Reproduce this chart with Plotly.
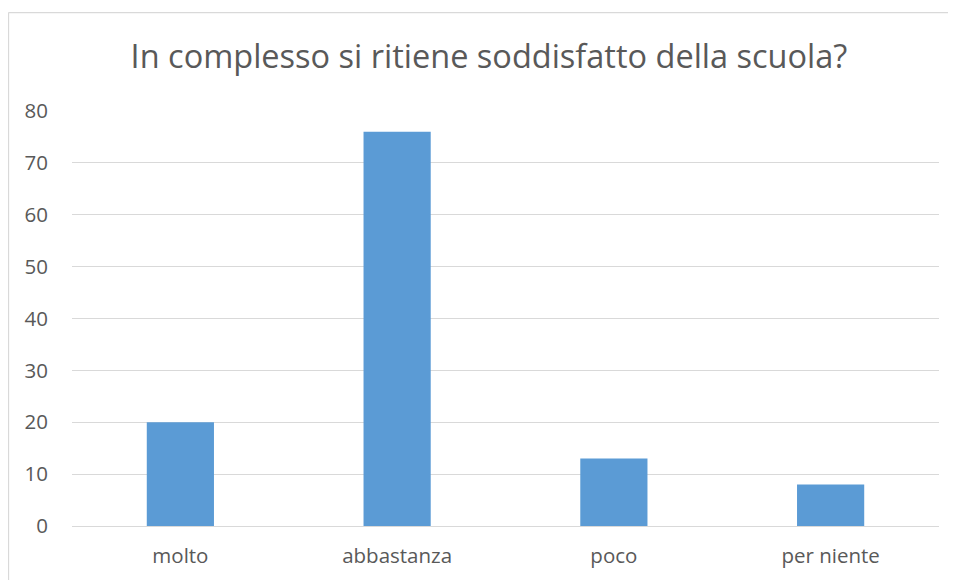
import plotly.graph_objects as go

categories = ["molto", "abbastanza", "poco", "per niente"]
values = [20, 76, 13, 8]
y_ticks = [0, 10, 20, 30, 40, 50, 60, 70, 80]

# page has an 8px body margin, so the figure is drawn 8px smaller and coordinates are shifted
OFF = 8
W, H = 956 - OFF, 580 - OFF
ml = 72 - OFF
mt = 111 - OFF
mr = 956 - 938.7
mb = 580 - 526.5
pw = W - ml - mr
ph = H - mt - mb

fig = go.Figure(go.Bar(x=categories, y=values, marker=dict(color="#5b9bd5", line=dict(width=0)), width=0.31))

def px_x(px):
    return (px - OFF - ml) / pw

def px_y(py):
    return 1 - (py - OFF - mt) / ph

bx, by = px_x(8.5), px_y(12.5)
fig.add_shape(type="line", xref="paper", yref="paper", x0=bx, x1=px_x(1000), y0=by, y1=by,
              line=dict(color="#d9d9d9", width=1.3))
fig.add_shape(type="line", xref="paper", yref="paper", x0=bx, x1=bx, y0=by, y1=px_y(620),
              line=dict(color="#d9d9d9", width=1.3))

fig.update_layout(
    width=W, height=H,
    margin=dict(l=ml, r=mr, t=mt, b=mb),
    paper_bgcolor="white", plot_bgcolor="white",
    font=dict(family="Open Sans", color="#595959"),
    title=dict(text="In complesso si ritiene soddisfatto della scuola?", x=(489 - OFF) / W, xanchor="center",
               y=1 - (57 - OFF) / H, yanchor="middle", font=dict(size=32.5, color="#595959")),
    showlegend=False,
    bargap=0.69,
    xaxis=dict(showgrid=False, showline=False, ticks="", tickfont=dict(size=20.5, color="#595959"),
               ticklabelstandoff=15),
    yaxis=dict(range=[0, 80], tickvals=y_ticks, showgrid=True, gridcolor="#d9d9d9", gridwidth=1.3,
               zeroline=True, zerolinecolor="#d9d9d9", zerolinewidth=1.3,
               tickfont=dict(size=20.5, color="#595959"), ticks="", ticklabelstandoff=23),
)
fig.write_html("out.html")
